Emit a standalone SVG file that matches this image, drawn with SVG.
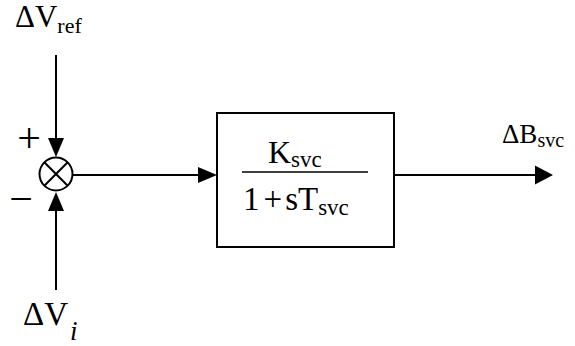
<svg xmlns="http://www.w3.org/2000/svg" width="575" height="346" viewBox="0 0 575 346">
<style>
.ln{stroke:#000;stroke-width:2;fill:none}
.ah{fill:#000;stroke:none}
.t{font-family:"Liberation Serif","Times New Roman",serif;fill:#000}
</style>
<rect width="575" height="346" fill="#fff"/>
<g id="connectors">
<line class="ln" x1="56" y1="55" x2="56" y2="145"/>
<polygon class="ah" points="48,138 64,138 56,157"/>
<line class="ln" x1="56" y1="290" x2="56" y2="203"/>
<polygon class="ah" points="48,211 64,211 56,192"/>
<line class="ln" x1="73" y1="175" x2="205" y2="175"/>
<polygon class="ah" points="198,167 198,183 217,175"/>
<line class="ln" x1="394" y1="175" x2="540" y2="175"/>
<polygon class="ah" points="535,165.5 535,184.5 553,175"/>
</g>
<g id="sum">
<circle class="ln" cx="56" cy="174" r="16.5"/>
<line class="ln" x1="44.3" y1="162.3" x2="67.7" y2="185.7"/>
<line class="ln" x1="67.7" y1="162.3" x2="44.3" y2="185.7"/>
<text class="t" x="29" y="152" font-size="42" text-anchor="middle">+</text>
<text class="t" x="21" y="213" font-size="42" text-anchor="middle">−</text>
</g>
<g id="block">
<rect class="ln" x="217" y="113" width="177" height="134"/>
<line x1="242" y1="172" x2="368" y2="172" stroke="#000" stroke-width="1.5"/>
<text class="t" x="268" y="163" font-size="32">K<tspan font-size="23" dy="4">svc</tspan></text>
<text class="t" x="243" y="210" font-size="33">1<tspan dx="4">+</tspan><tspan dx="3">sT</tspan><tspan font-size="23" dy="5">svc</tspan></text>
</g>
<g id="vref">
<text class="t" x="15" y="27" font-size="31">ΔV<tspan font-size="22" dy="6">ref</tspan></text>
</g>
<g id="vi">
<text class="t" x="23" y="325" font-size="33">ΔV<tspan font-size="27" font-style="italic" dy="15" dx="2">i</tspan></text>
</g>
<g id="bsvc">
<text class="t" x="502" y="143" font-size="27">ΔB<tspan font-size="20" dy="4">svc</tspan></text>
</g>
</svg>
